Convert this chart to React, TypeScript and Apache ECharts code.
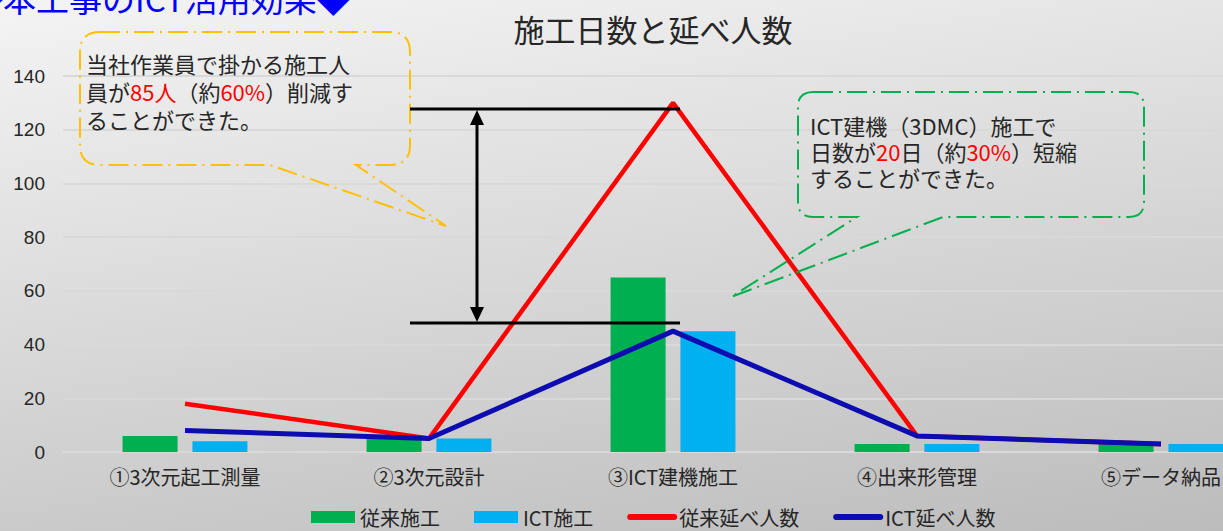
import React, { useEffect, useRef } from "react";
import * as echarts from "echarts";

const categories = ["①3次元起工測量", "②3次元設計", "③ICT建機施工", "④出来形管理", "⑤データ納品"];
const seriesNames = ["従来施工", "ICT施工", "従来延べ人数", "ICT延べ人数"];
const conventionalDays = [6, 5, 65, 3, 3];
const ictDays = [4, 5, 45, 3, 3];
const conventionalWorkers = [18, 5, 130, 6, 3];
const ictWorkers = [8, 5, 45, 6, 3];
const yMin = 0;
const yMax = 140;
const yStep = 20;

const chartTitle = "施工日数と延べ人数";
const pageHeading = "◆本工事のICT活用効果◆";
const noteLeft = "当社作業員で掛かる施工人\n員が{r|85人}（約{r|60%}）削減す\nることができた。";
const noteRight = "ICT建機（3DMC）施工で\n日数が{r|20}日（約{r|30%}）短縮\nすることができた。";

const yellowCallout =
  "M 100 32 L 390 32 Q 410 32 410 52 L 410 145 Q 410 165 390 165 L 356 165 L 446 226 L 270 165 L 100 165 Q 80 165 80 145 L 80 52 Q 80 32 100 32 Z";
const greenCallout =
  "M 813 92 L 1129 92 Q 1144 92 1144 107 L 1144 202 Q 1144 217 1129 217 L 943 217 L 731 297 L 857 217 L 813 217 Q 798 217 798 202 L 798 107 Q 798 92 813 92 Z";

echarts.graphic.registerShape("calloutYellow", echarts.graphic.extendPath(yellowCallout, {}));
echarts.graphic.registerShape("calloutGreen", echarts.graphic.extendPath(greenCallout, {}));

const CJK = '"Noto Sans CJK JP", "Noto Sans", sans-serif';

export default function App() {
  const ref = useRef<HTMLDivElement>(null);
  useEffect(() => {
    document.body.style.margin = "0";
    document.body.style.overflow = "hidden";
    document.documentElement.style.overflow = "hidden";
    if (!ref.current) return;
    const chart = echarts.init(ref.current, null, { renderer: "svg" });
    const option: any = {
      animation: false,
      backgroundColor: new echarts.graphic.LinearGradient(0, 0, 115, 740, [
        { offset: 0, color: "#f4f4f4" },
        { offset: 1, color: "#b9b9b9" },
      ], true),
      grid: { left: 63, top: 76, width: 1220, height: 376 },
      xAxis: {
        type: "category",
        data: categories,
        axisTick: { show: false },
        axisLine: { show: true, lineStyle: { color: "#d9d9d9", width: 2 } },
        axisLabel: { margin: 14, fontSize: 20, color: "#262626", fontFamily: CJK },
      },
      yAxis: {
        type: "value",
        min: yMin,
        max: yMax,
        interval: yStep,
        axisLine: { show: false },
        axisTick: { show: false },
        splitLine: { lineStyle: { color: "#d9d9d9", width: 2 } },
        axisLabel: { margin: 18, fontSize: 19, color: "#262626", fontFamily: "Liberation Sans, Arial, sans-serif" },
      },
      legend: {
        left: 306,
        top: 502,
        itemWidth: 44,
        itemHeight: 12,
        itemGap: 34,
        textStyle: { fontSize: 20, color: "#262626", fontFamily: CJK },
        data: [
          { name: seriesNames[0], icon: "rect" },
          { name: seriesNames[1], icon: "rect" },
          { name: seriesNames[2], itemStyle: { opacity: 0 }, lineStyle: { width: 6, cap: "round" } },
          { name: seriesNames[3], itemStyle: { opacity: 0 }, lineStyle: { width: 6, cap: "round" } },
        ],
      },
      series: [
        { name: seriesNames[0], type: "bar", data: conventionalDays, barWidth: 55, barGap: "27%", itemStyle: { color: "#00b050" } },
        { name: seriesNames[1], type: "bar", data: ictDays, barWidth: 55, barGap: "27%", itemStyle: { color: "#00b0f0" } },
        { name: seriesNames[2], type: "line", data: conventionalWorkers, symbol: "none", lineStyle: { color: "#ff0000", width: 4.5 }, itemStyle: { color: "#ff0000" } },
        { name: seriesNames[3], type: "line", data: ictWorkers, symbol: "none", lineStyle: { color: "#0c0cb0", width: 5 }, itemStyle: { color: "#0c0cb0" } },
      ],
      graphic: [
        { type: "text", z: 100, x: -30, y: -2, style: { text: pageHeading, fontSize: 33, fill: "#0000ff", fontFamily: CJK, verticalAlign: "middle" } },
        { type: "text", z: 100, x: 653, y: 28, style: { text: chartTitle, fontSize: 31, fill: "#262626", fontFamily: CJK, align: "center", verticalAlign: "middle" } },
        { type: "calloutYellow", z: 100, x: 0, y: 0, style: { fill: "none", stroke: "#ffc000", lineWidth: 2, lineDash: [20, 6, 2, 6] } },
        { type: "calloutGreen", z: 100, x: 0, y: 0, style: { fill: "none", stroke: "#00b050", lineWidth: 2, lineDash: [20, 6, 2, 6] } },
        {
          type: "text", z: 101, x: 86, y: 49,
          style: {
            text: noteLeft, fontSize: 22, lineHeight: 28, fill: "#262626", fontFamily: CJK, verticalAlign: "top",
            rich: { r: { fontSize: 22, lineHeight: 28, fill: "#ff0000", fontFamily: CJK } },
          },
        },
        {
          type: "text", z: 101, x: 810, y: 112,
          style: {
            text: noteRight, fontSize: 22, lineHeight: 26, fill: "#262626", fontFamily: CJK, verticalAlign: "top",
            rich: { r: { fontSize: 22, lineHeight: 26, fill: "#ff0000", fontFamily: CJK } },
          },
        },
        { type: "line", z: 100, shape: { x1: 410, y1: 109, x2: 680, y2: 109 }, style: { stroke: "#000", lineWidth: 3 } },
        { type: "line", z: 100, shape: { x1: 410, y1: 323, x2: 680, y2: 323 }, style: { stroke: "#000", lineWidth: 3 } },
        { type: "line", z: 100, shape: { x1: 477, y1: 120, x2: 477, y2: 312 }, style: { stroke: "#000", lineWidth: 3 } },
        { type: "polygon", z: 100, shape: { points: [[477, 110], [470, 125], [484, 125]] }, style: { fill: "#000" } },
        { type: "polygon", z: 100, shape: { points: [[477, 322], [470, 307], [484, 307]] }, style: { fill: "#000" } },
      ],
    };
    chart.setOption(option);
    return () => chart.dispose();
  }, []);
  return <div ref={ref} style={{ width: 1283, height: 531 }} />;
}
